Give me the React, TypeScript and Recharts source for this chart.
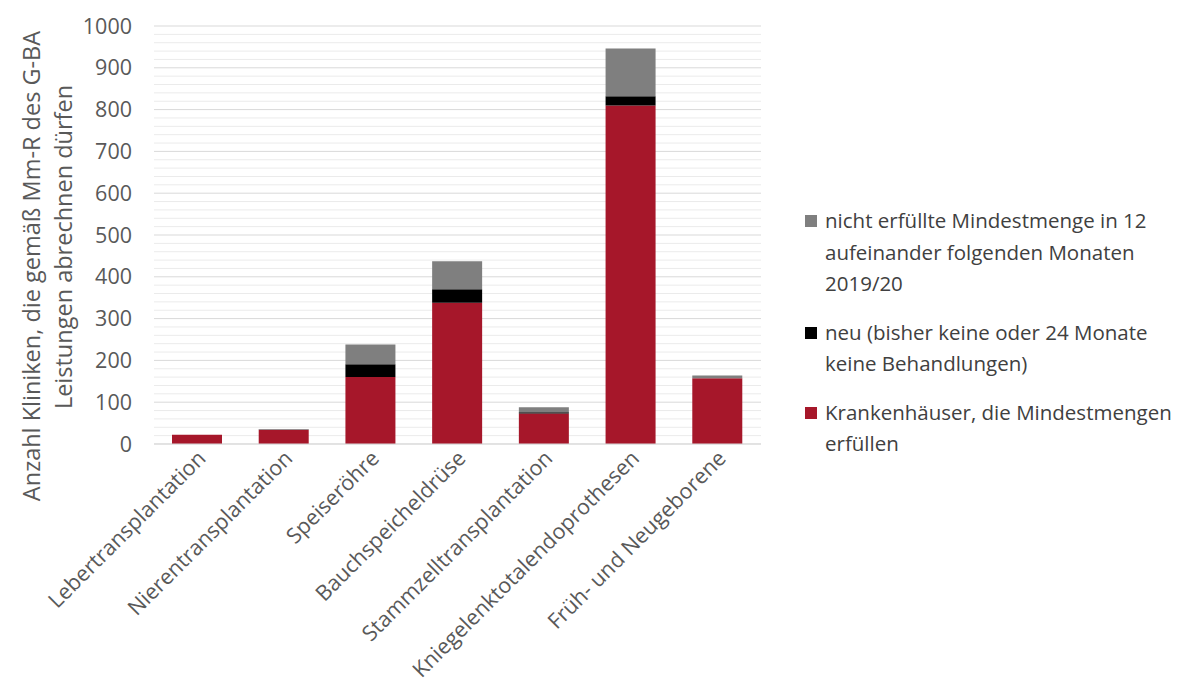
import { BarChart, Bar, XAxis, YAxis, CartesianGrid, Label } from 'recharts';

const categories = [
  'Lebertransplantation',
  'Nierentransplantation',
  'Speiseröhre',
  'Bauchspeicheldrüse',
  'Stammzelltransplantation',
  'Kniegelenktotalendoprothesen',
  'Früh- und Neugeborene',
];
const erfuellt = [22, 34, 160, 338, 73, 810, 157];
const neu = [0, 0, 31, 32, 3, 22, 0];
const nichtErfuellt = [0, 2, 47, 67, 12, 114, 7];

const majorTicks = [0, 100, 200, 300, 400, 500, 600, 700, 800, 900, 1000];
const minorTicks = [
  20, 40, 60, 80, 120, 140, 160, 180, 220, 240, 260, 280, 320, 340, 360, 380,
  420, 440, 460, 480, 520, 540, 560, 580, 620, 640, 660, 680, 720, 740, 760, 780,
  820, 840, 860, 880, 920, 940, 960, 980,
];

const series = [
  { key: 'nichtErfuellt', color: '#7f7f7f', lines: ['nicht erfüllte Mindestmenge in 12', 'aufeinander folgenden Monaten', '2019/20'] },
  { key: 'neu', color: '#000000', lines: ['neu (bisher keine oder 24 Monate', 'keine Behandlungen)'] },
  { key: 'erfuellt', color: '#a6172a', lines: ['Krankenhäuser, die Mindestmengen', 'erfüllen'] },
];

const yTitle = ['Anzahl Kliniken, die gemäß Mm-R des G-BA', 'Leistungen abrechnen dürfen'];

const data = categories.map((name, i) => ({
  name,
  erfuellt: erfuellt[i],
  neu: neu[i],
  nichtErfuellt: nichtErfuellt[i],
}));

const FONT = '"Open Sans", "Noto Sans", sans-serif';

function XTick(props: any) {
  const { x, y, payload } = props;
  return (
    <text
      x={x + 4}
      y={y + 2}
      textAnchor="end"
      transform={`rotate(-45, ${x + 4}, ${y + 2})`}
      fill="#595959"
      fontSize={21.5}
      fontFamily={FONT}
      dy={8}
    >
      {payload.value}
    </text>
  );
}

function YLabel(props: any) {
  const { viewBox } = props;
  const mid = viewBox.y + viewBox.height / 2;
  const lines = [
    { x: 32, y: mid + 31 },
    { x: 64, y: mid + 12 },
  ];
  return (
    <g>
      {lines.map((p, i) => (
        <text
          key={i}
          transform={`rotate(-90, ${p.x}, ${p.y})`}
          x={p.x}
          y={p.y}
          textAnchor="middle"
          fill="#595959"
          fontSize={23.5}
          fontFamily={FONT}
        >
          {yTitle[i]}
        </text>
      ))}
    </g>
  );
}

// minor gridlines every 20, through the y axis scale
const minorGen = ({ yAxis, offset }: any) => {
  const s = yAxis?.scale;
  if (typeof s === 'function') return minorTicks.map((v) => s(v));
  return minorTicks.map((v) => offset.top + offset.height * (1 - v / 1000));
};

export default function App() {
  return (
    <div style={{ position: 'relative', width: 1168, height: 687, fontFamily: FONT }}>
      <BarChart
        width={1168}
        height={687}
        data={data}
        margin={{ top: 18, right: 415, bottom: 0, left: 0 }}
        barSize={50}
      >
        <CartesianGrid vertical={false} stroke="#ebebeb" strokeWidth={1} horizontalCoordinatesGenerator={minorGen} />
        <CartesianGrid vertical={false} stroke="#d9d9d9" strokeWidth={1} />
        <XAxis
          dataKey="name"
          interval={0}
          tick={<XTick />}
          tickLine={false}
          axisLine={{ stroke: '#d9d9d9' }}
          height={251}
        />
        <YAxis
          domain={[0, 1000]}
          ticks={majorTicks}
          width={146}
          axisLine={false}
          tickLine={false}
          tickMargin={16}
          tick={{ fill: '#595959', fontSize: 21.5, fontFamily: FONT }}
        >
          <Label content={<YLabel />} />
        </YAxis>
        <Bar dataKey="erfuellt" stackId="a" fill="#a6172a" isAnimationActive={false} />
        <Bar dataKey="neu" stackId="a" fill="#000000" isAnimationActive={false} />
        <Bar dataKey="nichtErfuellt" stackId="a" fill="#7f7f7f" isAnimationActive={false} />
      </BarChart>
      <div style={{ position: 'absolute', left: 797, top: 197, color: '#404040', fontSize: 20.5, lineHeight: '31.5px' }}>
        {series.map((s) => (
          <div key={s.key} style={{ display: 'flex', alignItems: 'flex-start', marginBottom: 17 }}>
            <div style={{ width: 12, height: 12, background: s.color, marginTop: 10, marginRight: 8, flexShrink: 0 }} />
            <div>
              {s.lines.map((l, i) => (
                <div key={i} style={{ whiteSpace: 'nowrap' }}>{l}</div>
              ))}
            </div>
          </div>
        ))}
      </div>
    </div>
  );
}
